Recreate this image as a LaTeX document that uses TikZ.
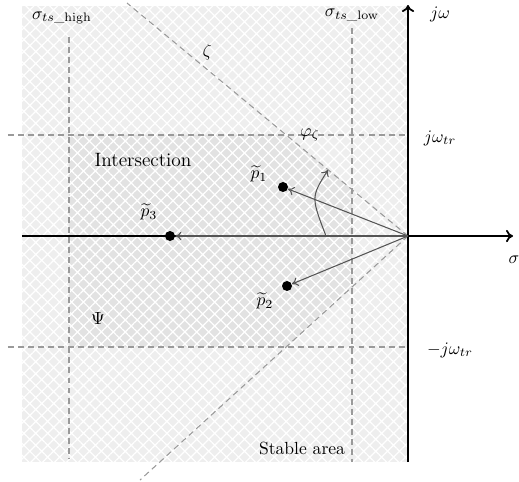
\documentclass[tikz,border=0pt]{standalone}
\usepackage{amsmath}
\usepackage{tikz}
\usetikzlibrary{arrows.meta, patterns.meta}
\definecolor{stablebg}{HTML}{EEEEEE}
\definecolor{interbg}{HTML}{E2E2E2}
\definecolor{guide}{HTML}{9A9A9A}
\definecolor{vec}{HTML}{555555}
\tikzset{
  hatch/.style={
    pattern={Hatch[angle=45, distance=4.8pt, line width=0.7pt]},
    pattern color=white
  },
  guide line/.style={
    color=guide, line width=0.6pt,
    dash pattern=on 3.4pt off 2.3pt
  },
  axis line/.style={
    -{To[length=4pt, width=7pt]},
    line width=1pt, black
  },
  vec arrow/.style={
    -{To[length=3.5pt, width=5pt]},
    line width=0.6pt, color=vec
  },
  pole/.style={
    circle, fill=black, inner sep=0pt, minimum size=0.2cm
  },
  lbl/.style={inner sep=1pt}
}

\begin{document}
\begin{tikzpicture}[x=0.02cm, y=0.02cm]
  \useasboundingbox (-408,-245) rectangle (111,236);

  % Stable area
  \fill[stablebg] (-386,230) rectangle (0,-226);
  \fill[hatch] (-386,230) rectangle (0,-226);

  % Intersection region (inside the damping cone)
  \begin{scope}
    \clip (0,0) -- (-562,466) -- (-536,-488) -- cycle;
    \fill[interbg] (-339,101) rectangle (-56,-111);
    \fill[hatch] (-339,101) rectangle (-56,-111);
  \end{scope}

  % Guide lines
  \draw[guide line] (-339,199) -- (-339,-222);
  \draw[guide line] (-56,208) -- (-56,-226);
  \draw[guide line] (-400,101) -- (0,101);
  \draw[guide line] (-400,-111) -- (0,-111);
  \draw[guide line] (0,0) -- (-281,233);
  \draw[guide line] (0,0) -- (-268,-244);

  % Axes
  \coordinate (O) at (0,0);
  \coordinate (re0) at (-386,0);
  \coordinate (re1) at (105,0);
  \coordinate (im0) at (0,-226);
  \coordinate (im1) at (0,231);
  \draw[axis line] (re0) -- (re1);
  \draw[axis line] (im0) -- (im1);

  % Poles
  \node[pole] (p1) at (-125,49) {};
  \node[pole] (p2) at (-121,-50) {};
  \node[pole] (p3) at (-238,0) {};
  \draw[vec arrow] (O) -- (p1);
  \draw[vec arrow] (O) -- (p2);
  \draw[vec arrow] (O) -- (p3);

  % Angle
  \coordinate (a0) at (-82,0);
  \coordinate (a1) at (-80,66);
  \draw[vec arrow] (a0) .. controls (-97,39) .. (a1);

  % Labels
  \node[lbl] (hi) at (-346,218) {$\sigma_{ts\_\mathrm{high}}$};
  \node[lbl] (lo) at (-56,221) {$\sigma_{ts\_\mathrm{low}}$};
  \node[lbl] (zeta) at (-201,184) {$\zeta$};
  \node[lbl] (phi) at (-98,101) {$\varphi_{\zeta}$};
  \node[lbl] (jw) at (32,222) {$j\omega$};
  \node[lbl] (jwtr) at (32,98) {$j\omega_{tr}$};
  \node[lbl] (mjwtr) at (42,-114) {$-j\omega_{tr}$};
  \node[lbl] (sig) at (106,-24) {$\sigma$};
  \node[lbl, font=\fontsize{11}{13}\selectfont] (inter) at (-265,76) {Intersection};
  \node[lbl] (psi) at (-310,-82) {$\Psi$};
  \node[lbl] (stable) at (-106,-212) {Stable area};
  \node[lbl] (lp1) at (-149,62) {$\widetilde{p}_1$};
  \node[lbl] (lp2) at (-143,-65) {$\widetilde{p}_2$};
  \node[lbl] (lp3) at (-259,24) {$\widetilde{p}_3$};
\end{tikzpicture}
\end{document}
